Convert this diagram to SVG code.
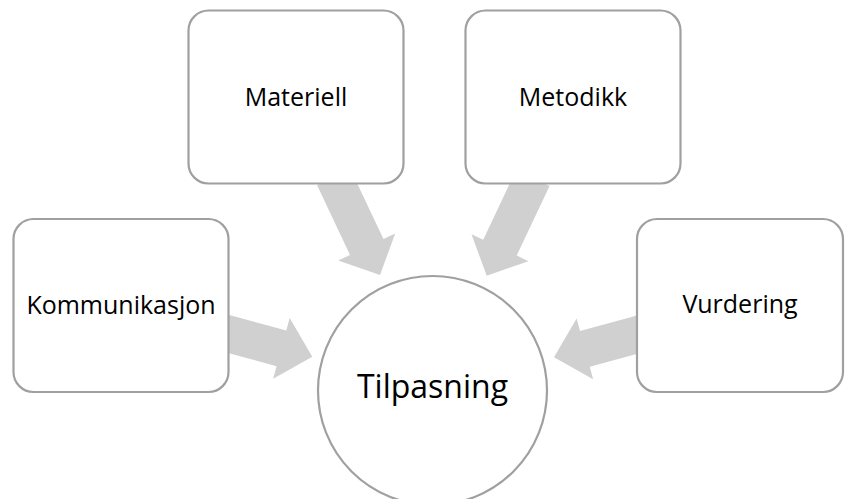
<svg xmlns="http://www.w3.org/2000/svg" width="845" height="499" viewBox="0 0 845 499">
  <style>
    .box { fill: #ffffff; stroke: #a0a0a0; stroke-width: 2.2; }
    .arrow { fill: #d0d0d0; stroke: none; }
    .label { font-family: "Open Sans", "Liberation Sans", sans-serif; font-size: 25px; fill: #000000; text-anchor: middle; }
    .hub { font-size: 32px; }
  </style>
  <defs>
    <!-- block arrow, tip at origin, pointing along +x -->
    <path id="arrowShort" d="M -92 -18.5 L -32 -18.5 L -32 -31.5 L 0 0 L -32 31.5 L -32 18.5 L -92 18.5 Z"/>
    <path id="arrowLong" d="M -108 -18.5 L -31 -18.5 L -31 -31.5 L 0 0 L -31 31.5 L -31 18.5 L -108 18.5 Z"/>
  </defs>

  <g id="connectors">
    <use href="#arrowShort" class="arrow" transform="translate(312.3 356.7) rotate(15.2)"/>
    <use href="#arrowLong" class="arrow" transform="translate(380 275) rotate(64.7)"/>
    <use href="#arrowLong" class="arrow" transform="translate(486.7 275.7) rotate(115.3)"/>
    <use href="#arrowShort" class="arrow" transform="translate(554 357.3) rotate(164.8)"/>
  </g>

  <g id="node-materiell">
    <rect class="box" x="188.5" y="10.5" width="215" height="173" rx="20"/>
    <text class="label" x="296" y="106">Materiell</text>
  </g>

  <g id="node-metodikk">
    <rect class="box" x="465.5" y="10.5" width="215" height="173" rx="20"/>
    <text class="label" x="573" y="106">Metodikk</text>
  </g>

  <g id="node-kommunikasjon">
    <rect class="box" x="13.5" y="219" width="215" height="173" rx="20"/>
    <text class="label" x="121" y="314">Kommunikasjon</text>
  </g>

  <g id="node-vurdering">
    <rect class="box" x="637" y="219" width="206" height="173" rx="20"/>
    <text class="label" x="740" y="313">Vurdering</text>
  </g>

  <g id="node-tilpasning">
    <circle class="box" cx="432.5" cy="390.5" r="114.5"/>
    <text class="label hub" x="432.5" y="398">Tilpasning</text>
  </g>
</svg>
